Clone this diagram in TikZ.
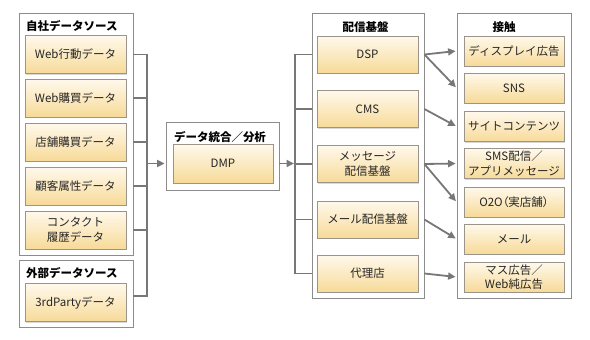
\documentclass[tikz,border=0pt]{standalone}
\usepackage{fontspec}
\setmainfont{Noto Sans CJK JP}
\usetikzlibrary{arrows.meta,shadows}
\definecolor{cajatop}{HTML}{FFF9EC}
\definecolor{cajabot}{HTML}{F7DA98}
\definecolor{cajaborde}{HTML}{9A948A}
\definecolor{gris}{HTML}{777777}
\begin{document}
\begin{tikzpicture}[
        x=1pt, y=-1pt,
        every node/.style={font=\fontsize{11.5}{14.5}\selectfont, text=black!85},
        grp/.style={draw=black!45, line width=0.8pt, fill=white},
        caja/.style={draw=cajaborde, line width=0.6pt, top color=cajatop, bottom color=cajabot,
            drop shadow={shadow xshift=1pt, shadow yshift=-1pt, opacity=0.3},
            align=center, inner sep=1pt},
        titulo/.style={font=\fontsize{11.5}{14}\selectfont\bfseries, text=black},
        linea/.style={draw=gris, line width=1.8pt},
        flecha/.style={linea, -{Triangle[length=7.5pt,width=7pt]}, shorten >=1pt}
    ]
        \useasboundingbox (0,0) rectangle (590,340);
        % Grupos
        \node[grp, minimum width=114, minimum height=242] (ga) at (76,134) {};
        \node[grp, minimum width=114, minimum height=67] (gb) at (76,293.5) {};
        \node[grp, minimum width=113, minimum height=68] (gm) at (222.5,156) {};
        \node[grp, minimum width=112, minimum height=285] (gc) at (368,155.5) {};
        \node[grp, minimum width=114, minimum height=285] (gt) at (514,155.5) {};
        
        % Títulos de los grupos
        \node[titulo, anchor=west, inner sep=0pt] (ta) at (26,26) {自社データソース};
        \node[titulo, anchor=west, inner sep=0pt] (tb) at (26,273) {外部データソース};
        \node[titulo] (tm) at (220,137) {データ統合／分析};
        \node[titulo] (tc) at (365.5,27) {配信基盤};
        \node[titulo] (tt) at (504,27) {接触};
        
        % Fuentes de datos
        \node[caja, minimum width=101, minimum height=38] (a1) at (75.5,54.5) {Web行動データ};
        \node[caja, minimum width=101, minimum height=38] (a2) at (75.5,98) {Web購買データ};
        \node[caja, minimum width=101, minimum height=38] (a3) at (75.5,142) {店舗購買データ};
        \node[caja, minimum width=101, minimum height=38] (a4) at (75.5,186) {顧客属性データ};
        \node[caja, minimum width=101, minimum height=38] (a5) at (75.5,230) {コンタクト\\履歴データ};
        \node[caja, minimum width=101, minimum height=38] (b1) at (75.5,302.5) {3rdPartyデータ};
        
        % DMP
        \node[caja, minimum width=100, minimum height=39] (dmp) at (223,163.5) {DMP};
        
        % Plataformas de distribución
        \node[caja, minimum width=101, minimum height=37] (c1) at (367.5,54.5) {DSP};
        \node[caja, minimum width=101, minimum height=37] (c2) at (367.5,109) {CMS};
        \node[caja, minimum width=101, minimum height=37] (c3) at (367.5,164) {メッセージ\\配信基盤};
        \node[caja, minimum width=101, minimum height=37] (c4) at (367.5,219.5) {メール配信基盤};
        \node[caja, minimum width=101, minimum height=37] (c5) at (367.5,273.5) {代理店};
        
        % Puntos de contacto
        \node[caja, minimum width=100, minimum height=30] (t1) at (514,51) {ディスプレイ広告};
        \node[caja, minimum width=100, minimum height=30] (t2) at (514,88) {SNS};
        \node[caja, minimum width=100, minimum height=30] (t3) at (514,126.5) {サイトコンテンツ};
        \node[caja, minimum width=100, minimum height=30] (t4) at (514,163.5) {SMS配信／\\アプリメッセージ};
        \node[caja, minimum width=100, minimum height=30] (t5) at (514,202) {\addfontfeature{RawFeature=+palt}O2O（実店舗）};
        \node[caja, minimum width=100, minimum height=30] (t6) at (514,239) {メール};
        \node[caja, minimum width=100, minimum height=30] (t7) at (514,277) {マス広告／\\Web純広告};
        
        % Conexiones de las fuentes al DMP
        \coordinate (busL) at (147,0);
        \coordinate (bL) at (147,296);
        \draw[linea] (a1 -| ga.east) -- (a1 -| busL) -- (bL) -- (bL -| gb.east);
        \draw[linea] (a2 -| ga.east) -- (a2 -| busL);
        \draw[linea] (a3 -| ga.east) -- (a3 -| busL);
        \draw[linea] (a4 -| ga.east) -- (a4 -| busL);
        \draw[linea] (a5 -| ga.east) -- (a5 -| busL);
        \draw[flecha] (dmp -| busL) -- (dmp -| gm.west);
        
        % Conexiones del DMP a las plataformas
        \coordinate (busR) at (295,0);
        \draw[flecha] (dmp -| gm.east) -- (dmp -| busR);
        \draw[linea] (c1 -| gc.west) -- (c1 -| busR) -- (c5 -| busR) -- (c5 -| gc.west);
        \draw[linea] (c2 -| gc.west) -- (c2 -| busR);
        \draw[linea] (c3 -| gc.west) -- (c3 -| busR);
        \draw[linea] (c4 -| gc.west) -- (c4 -| busR);
        
        % Flechas hacia los puntos de contacto
        \draw[flecha] (c1 -| gc.east) -- (t1 -| gt.west);
        \draw[flecha] (c1 -| gc.east) -- (t2 -| gt.west);
        \draw[flecha] (c2 -| gc.east) -- (t3 -| gt.west);
        \draw[flecha] (c3 -| gc.east) -- (t4 -| gt.west);
        \draw[flecha] (c3 -| gc.east) -- (t5 -| gt.west);
        \draw[flecha] (c4 -| gc.east) -- (t6 -| gt.west);
        \draw[flecha] (c5 -| gc.east) -- (t7 -| gt.west);
        \end{tikzpicture}
\end{document}
